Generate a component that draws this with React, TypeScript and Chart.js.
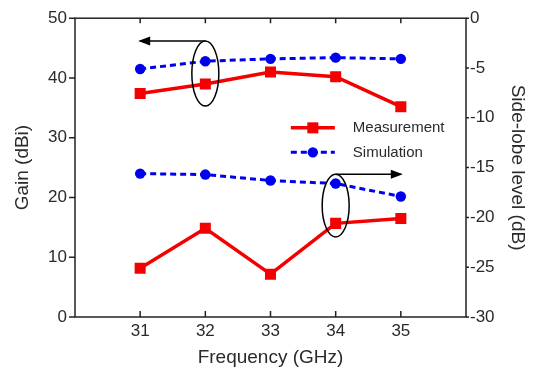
import React, { useEffect, useRef } from "react";
import { Chart, registerables } from "chart.js";

Chart.register(...registerables);

const frequencies = [31, 32, 33, 34, 35];
const xTicks = [31, 32, 33, 34, 35];
const gainMeasured = [37.4, 39.0, 41.0, 40.2, 35.2];
const gainSimulated = [41.5, 42.8, 43.2, 43.4, 43.2];
const slMeasured = [-25.1, -21.1, -25.7, -20.6, -20.1];
const slSimulated = [-15.6, -15.7, -16.3, -16.6, -17.9];
const seriesNames = ["Measurement", "Simulation"];

const RED = "#f50000";
const BLUE = "#0000ee";
const TEXT = "#2a2a2a";
const FONT = "'Liberation Sans', Arial, sans-serif";

const framePlugin = {
  id: "frame",
  afterDatasetsDraw(chart: any) {
    const { ctx, chartArea: a, scales } = chart;
    const x = scales.x, yl = scales.yL, yr = scales.yR;
    ctx.save();
    ctx.strokeStyle = "#222";
    ctx.lineWidth = 1.5;
    ctx.strokeRect(a.left, a.top, a.right - a.left, a.bottom - a.top);
    ctx.beginPath();
    xTicks.forEach((v) => {
      const px = x.getPixelForValue(v);
      ctx.moveTo(px, a.bottom);
      ctx.lineTo(px, a.bottom - 6);
      ctx.moveTo(px, a.top);
      ctx.lineTo(px, a.top + 5);
    });
    yl.ticks.forEach((t: any) => {
      const py = yl.getPixelForValue(t.value);
      ctx.moveTo(a.left, py);
      ctx.lineTo(a.left - 6, py);
    });
    yr.ticks.forEach((t: any) => {
      const py = yr.getPixelForValue(t.value);
      ctx.moveTo(a.right, py);
      ctx.lineTo(a.right + 3, py);
    });
    ctx.stroke();

    const arrow = (x1: number, x2: number, yy: number) => {
      ctx.beginPath();
      ctx.moveTo(x1, yy);
      ctx.lineTo(x2, yy);
      ctx.stroke();
      const dir = Math.sign(x2 - x1);
      ctx.beginPath();
      ctx.moveTo(x2 + dir * 2, yy);
      ctx.lineTo(x2 - dir * 10, yy - 4.5);
      ctx.lineTo(x2 - dir * 10, yy + 4.5);
      ctx.closePath();
      ctx.fill();
    };
    ctx.fillStyle = "#000";
    ctx.strokeStyle = "#000";
    ctx.lineWidth = 1.5;
    const e1x = x.getPixelForValue(32);
    const e1t = yl.getPixelForValue(46.2);
    const e1b = yl.getPixelForValue(35.3);
    ctx.beginPath();
    ctx.ellipse(e1x, (e1t + e1b) / 2, 13.5, (e1b - e1t) / 2, 0, 0, Math.PI * 2);
    ctx.stroke();
    arrow(e1x, x.getPixelForValue(31), e1t);
    const e2x = x.getPixelForValue(34);
    const e2t = yr.getPixelForValue(-15.66);
    const e2b = yr.getPixelForValue(-21.97);
    ctx.beginPath();
    ctx.ellipse(e2x, (e2t + e2b) / 2, 13.5, (e2b - e2t) / 2, 0, 0, Math.PI * 2);
    ctx.stroke();
    arrow(e2x, x.getPixelForValue(35), e2t);

    const lx0 = a.left + (a.right - a.left) * 0.552;
    const lx1 = lx0 + 44;
    const rows = [
      { y: a.top + (a.bottom - a.top) * 0.367, ds: chart.data.datasets[0] },
      { y: a.top + (a.bottom - a.top) * 0.449, ds: chart.data.datasets[1] },
    ];
    rows.forEach((r, i) => {
      const ds = r.ds;
      ctx.strokeStyle = ds.borderColor;
      ctx.fillStyle = ds.backgroundColor;
      ctx.lineWidth = ds.borderWidth;
      ctx.setLineDash(ds.borderDash || []);
      ctx.beginPath();
      ctx.moveTo(lx0, r.y);
      ctx.lineTo(lx1, r.y);
      ctx.stroke();
      ctx.setLineDash([]);
      const cx = (lx0 + lx1) / 2;
      ctx.beginPath();
      if (ds.pointStyle === "rect") {
        const s = ds.pointRadius * Math.SQRT1_2;
        ctx.rect(cx - s, r.y - s, 2 * s, 2 * s);
      } else {
        ctx.arc(cx, r.y, ds.pointRadius, 0, Math.PI * 2);
      }
      ctx.fill();
      ctx.fillStyle = TEXT;
      ctx.font = `15px ${FONT}`;
      ctx.textBaseline = "middle";
      ctx.textAlign = "left";
      ctx.fillText(seriesNames[i], lx1 + 18, r.y);
    });
    ctx.restore();
  },
};

export default function App() {
  const ref = useRef<HTMLCanvasElement>(null);
  useEffect(() => {
    document.body.style.margin = "0";
    const mk = (xs: number[], ys: number[]) => xs.map((v, i) => ({ x: v, y: ys[i] }));
    const redStyle = {
      borderColor: RED,
      backgroundColor: RED,
      borderWidth: 3.5,
      pointStyle: "rect",
      pointRadius: 7.8,
      pointHoverRadius: 7.8,
      pointBorderWidth: 0,
    };
    const blueStyle = {
      borderColor: BLUE,
      backgroundColor: BLUE,
      borderWidth: 3,
      borderDash: [6, 4],
      pointStyle: "circle",
      pointRadius: 5.2,
      pointHoverRadius: 5.2,
      pointBorderWidth: 0,
    };
    const chart = new Chart(ref.current!, {
      type: "line",
      data: {
        datasets: [
          { label: seriesNames[0], data: mk(frequencies, gainMeasured), yAxisID: "yL", ...redStyle },
          { label: seriesNames[1], data: mk(frequencies, gainSimulated), yAxisID: "yL", ...blueStyle },
          { label: seriesNames[0] + " SLL", data: mk(frequencies, slMeasured), yAxisID: "yR", ...redStyle },
          { label: seriesNames[1] + " SLL", data: mk(frequencies, slSimulated), yAxisID: "yR", ...blueStyle },
        ] as any,
      },
      options: {
        animation: false,
        responsive: false,
        maintainAspectRatio: false,
        layout: { padding: { top: 14, left: 0, right: 0, bottom: 0 } },
        plugins: { legend: { display: false }, tooltip: { enabled: false } },
        scales: {
          x: {
            type: "linear",
            min: 30,
            max: 36,
            afterBuildTicks: (axis: any) => {
              axis.ticks = xTicks.map((v) => ({ value: v }));
            },
            afterFit: (s: any) => {
              s.height = 54;
            },
            grid: { display: false, drawTicks: false },
            border: { display: false },
            ticks: { color: TEXT, font: { family: FONT, size: 17 }, padding: 4, maxRotation: 0 },
            title: {
              display: true,
              text: "Frequency (GHz)",
              color: TEXT,
              font: { family: FONT, size: 19 },
              padding: { top: 0, bottom: 2 },
            },
          },
          yL: {
            type: "linear",
            position: "left",
            min: 0,
            max: 50,
            ticks: { stepSize: 10, color: TEXT, font: { family: FONT, size: 17 }, padding: 8 },
            afterFit: (s: any) => {
              s.width = 75;
            },
            grid: { display: false, drawTicks: false },
            border: { display: false },
            title: {
              display: true,
              text: "Gain (dBi)",
              color: TEXT,
              font: { family: FONT, size: 19 },
              padding: { top: 11, bottom: 0 },
            },
          },
          yR: {
            type: "linear",
            position: "right",
            min: -30,
            max: 0,
            ticks: { stepSize: 5, color: TEXT, font: { family: FONT, size: 17 }, padding: 4 },
            afterFit: (s: any) => {
              s.width = 71;
            },
            grid: { display: false, drawTicks: false },
            border: { display: false },
            title: {
              display: true,
              text: "Side-lobe level (dB)",
              color: TEXT,
              font: { family: FONT, size: 19 },
              padding: { top: 8, bottom: 0 },
            },
          },
        },
      } as any,
      plugins: [framePlugin],
    });
    return () => chart.destroy();
  }, []);
  return (
    <div style={{ position: "fixed", left: 0, top: 0, width: 537, height: 371, background: "#fff" }}>
      <canvas ref={ref} width={537} height={371} style={{ width: 537, height: 371, display: "block" }} />
    </div>
  );
}
